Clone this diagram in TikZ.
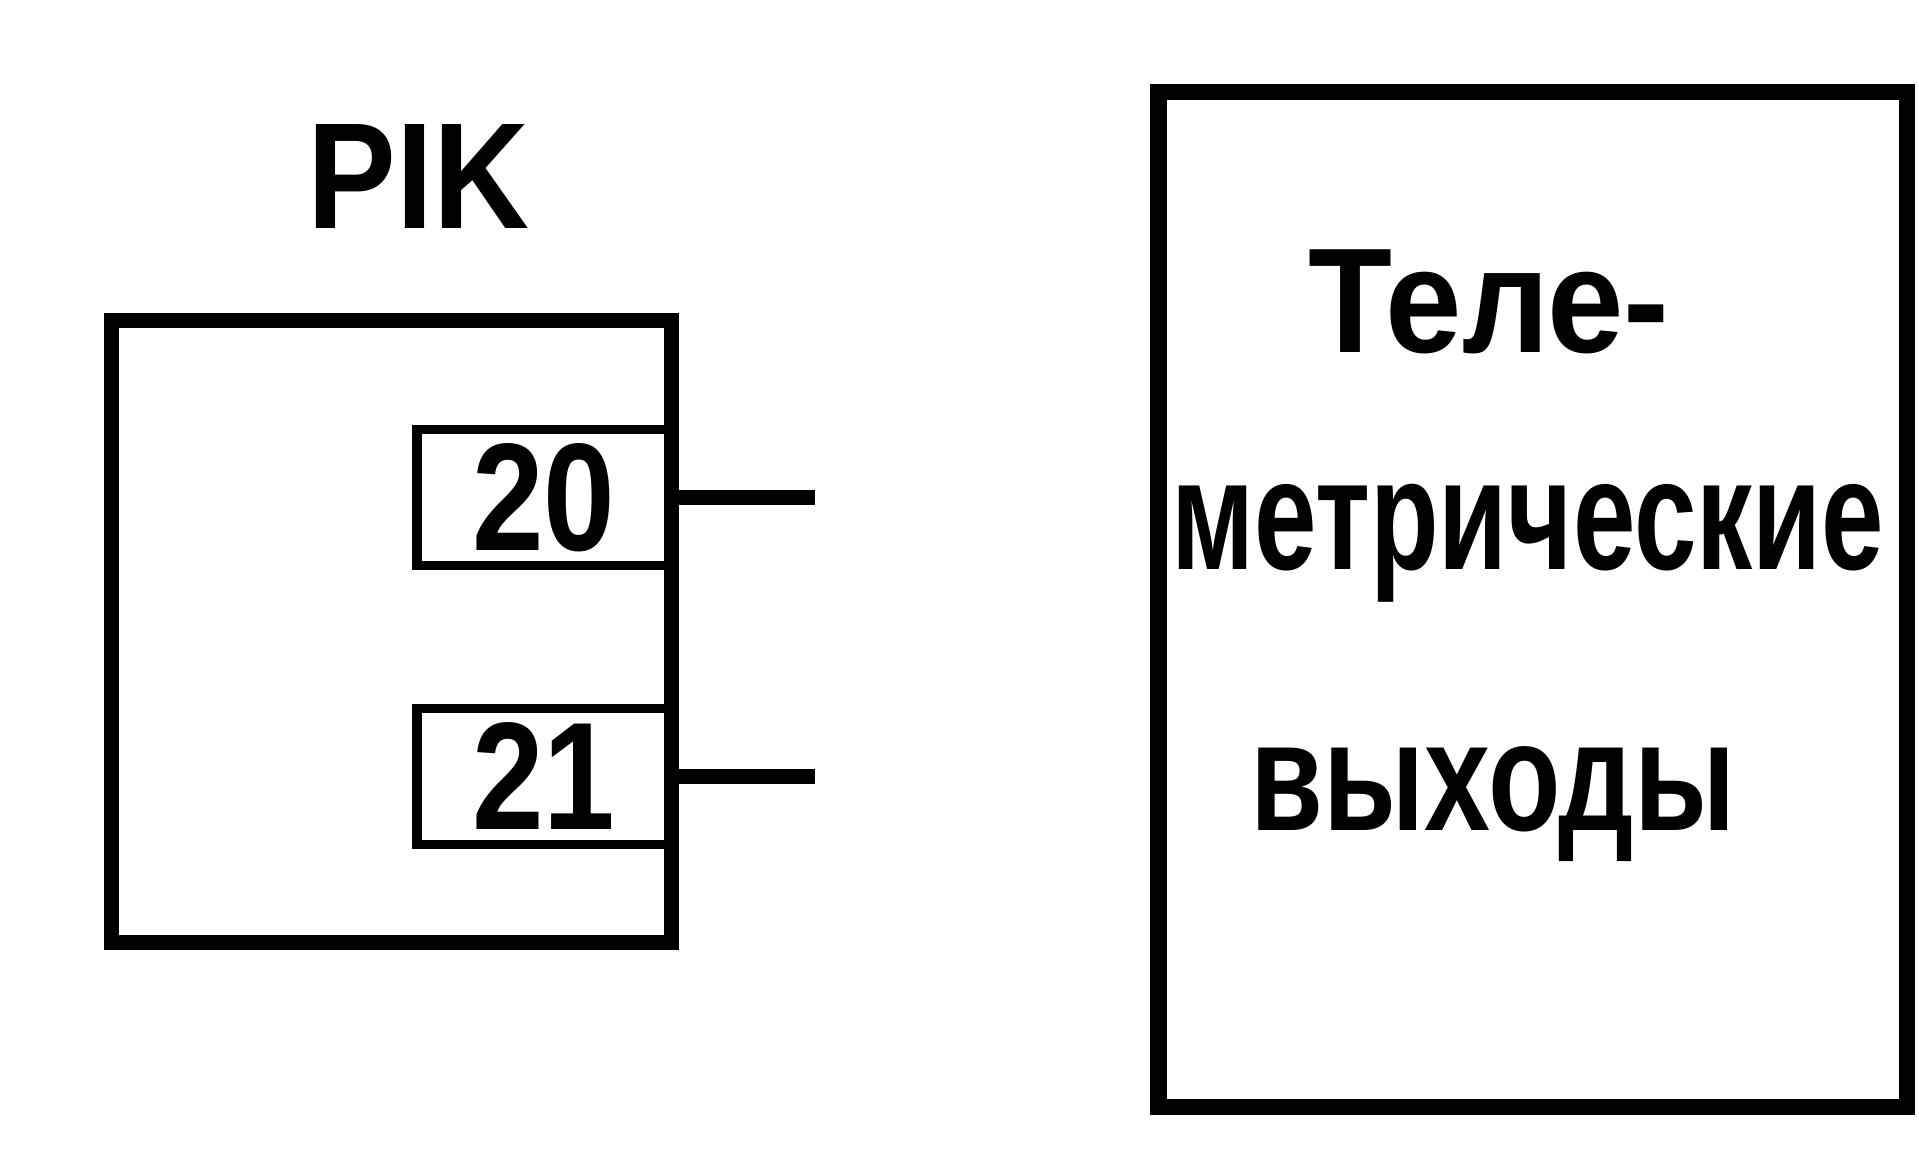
\documentclass[tikz,border=0pt]{standalone}
\usepackage{fontspec}
\setmainfont{Liberation Sans}
\usetikzlibrary{positioning}
% сжатый по ширине текст
\newcommand{\cond}[2]{\scalebox{#1}[1]{#2}}
\tikzset{
  blk/.style={rectangle, draw=black, line width=4.3pt, inner sep=0pt},
  % ячейка вывода (номер контакта)
  pinbox/.style={rectangle, draw=black, line width=2.7pt, inner sep=0pt,
                 minimum width=2.54cm, minimum height=1.36cm,
                 font=\fontsize{43.6}{45}\selectfont\bfseries},
  wire/.style={line width=4.5pt},
  ttl/.style={anchor=base, inner sep=0pt, font=\bfseries}
}

\begin{document}
\begin{tikzpicture}[x=1cm,y=1cm]
    \useasboundingbox (0,0) rectangle (19.19,11.60);

    % ---- блок РIK с выводами 20, 21 ----
    \node[pinbox] (d20) at (5.44,6.625) {\cond{0.84}{20}};
    \node[pinbox] (d21) at (5.44,3.835) {\cond{0.84}{21}};
    \node[blk, minimum width=5.60cm, minimum height=6.22cm] (rik) at (3.915,5.285) {};
    \node[ttl, font=\fontsize{43}{45}\selectfont\bfseries] (rikname) at (4.185,9.31) {\cond{0.88}{PIK}};

    \coordinate (o20) at (8.15,6.625);
    \coordinate (o21) at (8.15,3.835);
    \draw[wire] (d20.east) -- (o20);
    \draw[wire] (d21.east) -- (o21);

    % ---- телеметрические выходы ----
    \node[blk, line width=4.8pt, minimum width=7.485cm, minimum height=10.15cm] (tm) at (15.3275,5.605) {};
    \node[ttl, font=\fontsize{42.5}{44}\selectfont\bfseries] (tm1) at (14.89,8.07) {\cond{0.92}{Теле-}};
    \node[ttl, font=\fontsize{45}{47}\selectfont\bfseries] (tm2) at (15.275,5.90) {\cond{0.71}{метрические}};
    \node[ttl, font=\fontsize{44.4}{46}\selectfont\bfseries] (tm3) at (14.93,3.29) {\cond{0.76}{выходы}};
  \end{tikzpicture}
\end{document}
